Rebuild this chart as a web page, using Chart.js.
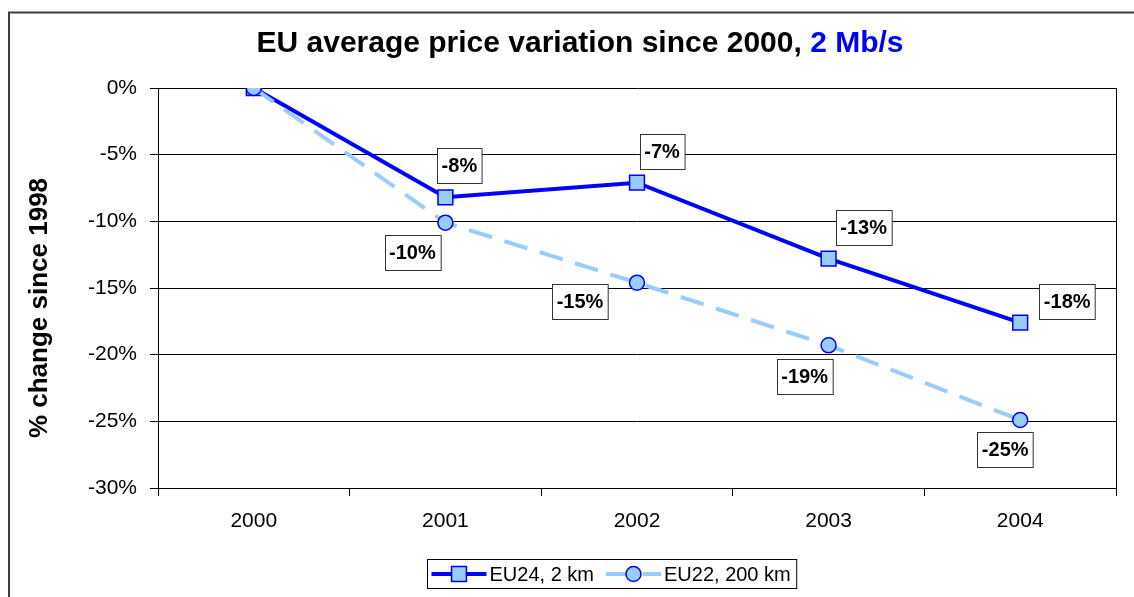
<!DOCTYPE html>
<html><head><meta charset="utf-8">
<script src="https://cdn.jsdelivr.net/npm/chart.js@4.4.0/dist/chart.umd.min.js"></script>
<style>html,body{margin:0;padding:0;background:#fff;} canvas{display:block;}</style>
</head><body>
<canvas id="c" width="1134" height="597"></canvas>
<script>
const categories = ['2000', '2001', '2002', '2003', '2004'];
const eu24 = [0, -8.2, -7.1, -12.8, -17.6];
const eu22 = [0, -10.1, -14.6, -19.3, -24.9];
const yTicks = [0, -5, -10, -15, -20, -25, -30];
const seriesNames = ['EU24, 2 km', 'EU22, 200 km'];
const titleMain = 'EU average price variation since 2000, ';
const titleAccent = '2 Mb/s';
const yTitle = '% change since 1998';

const FONT = "'Liberation Sans', Arial, sans-serif";
const DARK = '#0000FF';
const LIGHT = '#99CCFF';

const decor = {
  id: 'decor',
  beforeDraw(chart) {
    const ctx = chart.ctx;
    ctx.save();
    ctx.fillStyle = '#fff';
    ctx.fillRect(0, 0, chart.width, chart.height);
    ctx.strokeStyle = '#404040';
    ctx.lineWidth = 2;
    ctx.strokeRect(9, 12.5, chart.width + 20, chart.height + 20);
    ctx.restore();
  },
  afterDraw(chart) {
    const ctx = chart.ctx;
    const a = chart.chartArea;
    ctx.save();
    // right border of plot
    ctx.strokeStyle = '#000';
    ctx.lineWidth = 1;
    ctx.beginPath();
    ctx.moveTo(Math.round(a.right) + 0.5, a.top);
    ctx.lineTo(Math.round(a.right) + 0.5, a.bottom);
    ctx.stroke();
    // title
    ctx.font = 'bold 30px ' + FONT;
    ctx.textBaseline = 'middle';
    const w1 = ctx.measureText(titleMain).width;
    const w2 = ctx.measureText(titleAccent).width;
    let x = 580 - (w1 + w2) / 2;
    ctx.fillStyle = '#000';
    ctx.textAlign = 'left';
    ctx.fillText(titleMain, x, 44);
    ctx.fillStyle = DARK;
    ctx.fillText(titleAccent, x + w1, 44);
    // y axis title
    ctx.save();
    ctx.translate(40, 308);
    ctx.rotate(-Math.PI / 2);
    ctx.font = 'bold 26px ' + FONT;
    ctx.textAlign = 'center';
    ctx.fillStyle = '#000';
    ctx.fillText(yTitle, 0, 0);
    ctx.restore();
    // legend
    ctx.font = '20px ' + FONT;
    const lineLen = 55;
    const items = chart.data.datasets.map(ds => ({ds, tw: ctx.measureText(ds.label).width}));
    let total = 4;
    items.forEach((it, i) => { total += lineLen + 3 + it.tw + (i < items.length - 1 ? 12 : 6); });
    const bx = Math.round(612 - total / 2) + 0.5, by = 559.5, bh = 29;
    ctx.strokeStyle = '#000';
    ctx.lineWidth = 1;
    ctx.strokeRect(bx, by, total, bh);
    let cx = bx + 4;
    const cy = by + bh / 2;
    items.forEach((it) => {
      const ds = it.ds;
      ctx.save();
      ctx.strokeStyle = ds.borderColor;
      ctx.lineWidth = ds.borderWidth;
      ctx.setLineDash(ds.borderDash || []);
      ctx.beginPath();
      ctx.moveTo(cx, cy);
      ctx.lineTo(cx + lineLen, cy);
      ctx.stroke();
      ctx.restore();
      ctx.save();
      ctx.fillStyle = ds.pointBackgroundColor;
      ctx.strokeStyle = ds.pointBorderColor;
      ctx.lineWidth = ds.pointBorderWidth;
      ctx.beginPath();
      if (ds.pointStyle === 'rect') {
        const s = ds.pointRadius * Math.SQRT1_2;
        ctx.rect(cx + lineLen / 2 - s, cy - s, 2 * s, 2 * s);
      } else {
        ctx.arc(cx + lineLen / 2, cy, ds.pointRadius, 0, Math.PI * 2);
      }
      ctx.fill();
      ctx.stroke();
      ctx.restore();
      ctx.fillStyle = '#000';
      ctx.textAlign = 'left';
      ctx.textBaseline = 'middle';
      ctx.fillText(ds.label, cx + lineLen + 3, cy + 1);
      cx += lineLen + 3 + it.tw + 12;
    });
    ctx.restore();
  },
  afterDatasetsDraw(chart, args, opts) {
    const ctx = chart.ctx;
    ctx.save();
    ctx.font = 'bold 20px ' + FONT;
    ctx.textAlign = 'center';
    ctx.textBaseline = 'middle';
    chart.data.datasets.forEach((ds, di) => {
      const meta = chart.getDatasetMeta(di);
      const offs = opts.offsets[di];
      ds.data.forEach((v, i) => {
        if (v === 0 || !offs[i]) return;
        const p = meta.data[i];
        const txt = Math.round(v) + '%';
        const x = p.x + offs[i][0], y = p.y + offs[i][1];
        const w = ctx.measureText(txt).width + 9, h = 35;
        const rx = Math.round(x - w / 2) + 0.5, ry = Math.round(y - h / 2) + 0.5;
        ctx.fillStyle = '#fff';
        ctx.fillRect(rx, ry, w, h);
        ctx.strokeStyle = '#333';
        ctx.lineWidth = 1;
        ctx.strokeRect(rx, ry, w, h);
        ctx.fillStyle = '#000';
        ctx.fillText(txt, x, y + 1);
      });
    });
    ctx.restore();
  }
};

new Chart(document.getElementById('c'), {
  type: 'line',
  data: {
    labels: categories,
    datasets: [
      {
        label: seriesNames[0], data: eu24, order: 1,
        borderColor: DARK, borderWidth: 4, tension: 0,
        pointStyle: 'rect', pointRadius: 10.5, pointHoverRadius: 10.5,
        pointBackgroundColor: LIGHT, pointBorderColor: DARK, pointBorderWidth: 1.5
      },
      {
        label: seriesNames[1], data: eu22, order: 0,
        borderColor: LIGHT, borderWidth: 4, borderDash: [24, 13], tension: 0,
        pointStyle: 'circle', pointRadius: 7.5, pointHoverRadius: 7.5,
        pointBackgroundColor: LIGHT, pointBorderColor: DARK, pointBorderWidth: 1.5
      }
    ]
  },
  options: {
    responsive: false,
    animation: false,
    layout: { padding: { left: 0, right: 18, top: 88, bottom: 0 } },
    plugins: {
      legend: { display: false },
      title: { display: false },
      tooltip: { enabled: false },
      decor: {
        offsets: [
          [null, [14, -32], [25, -31], [35, -31], [47, -21]],
          [null, [-33, 30], [-57, 19], [-24, 31], [-15, 29]]
        ]
      }
    },
    scales: {
      x: {
        offset: true,
        grid: { display: true, drawOnChartArea: false, drawTicks: true, tickLength: 8, offset: true, color: '#000', lineWidth: 1 },
        border: { display: true, color: '#000', width: 1 },
        ticks: { color: '#000', font: { family: FONT, size: 21 }, padding: 13, maxRotation: 0 },
        afterFit(s) { s.height = 109; }
      },
      y: {
        min: -30, max: 0,
        afterBuildTicks(s) { s.ticks = yTicks.map(v => ({ value: v })); },
        grid: { color: '#000', lineWidth: 1, drawTicks: true, tickLength: 8 },
        border: { display: true, color: '#000', width: 1 },
        ticks: { color: '#000', font: { family: FONT, size: 21 }, padding: 13, callback: v => v + '%' },
        title: { display: false },
        afterFit(s) { s.width = 158; }
      }
    }
  },
  plugins: [decor]
});
</script>
</body></html>
